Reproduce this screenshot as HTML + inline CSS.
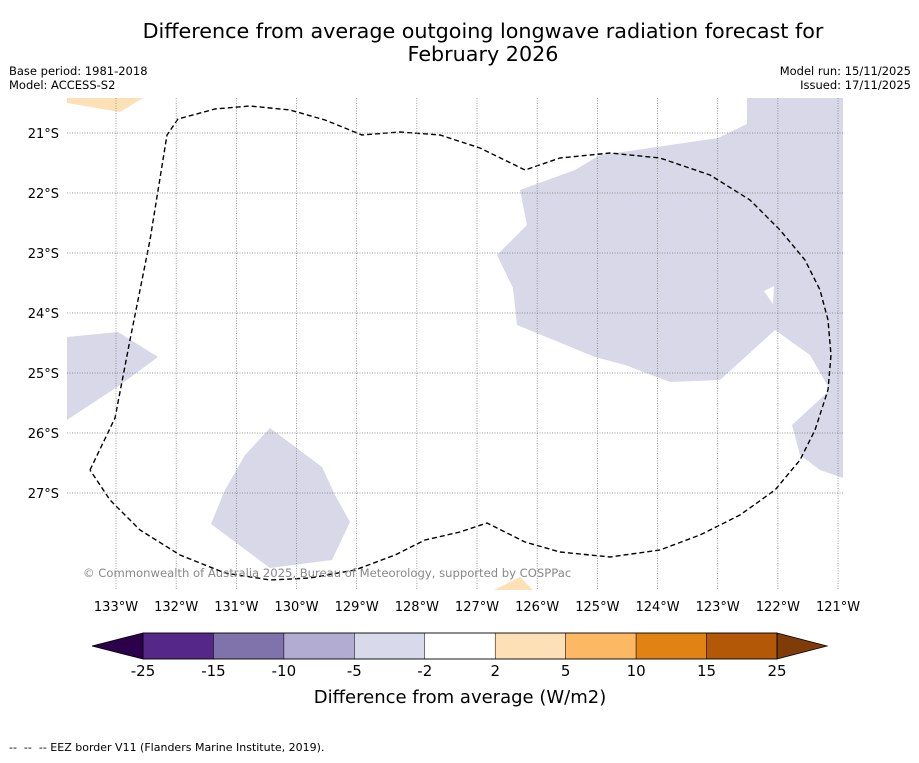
<!DOCTYPE html>
<html><head><meta charset="utf-8"><style>
body{margin:0;background:#fff;font-family:"Liberation Sans","DejaVu Sans",sans-serif}
svg text{font-family:"DejaVu Sans","Liberation Sans",sans-serif}
</style></head><body>
<svg id="chart" width="919" height="758" viewBox="0 0 919 758" xmlns="http://www.w3.org/2000/svg">
<rect width="919" height="758" fill="#fff"/>
<text x="483" y="38" font-size="20.7" text-anchor="middle">Difference from average outgoing longwave radiation forecast for</text>
<text x="483" y="61" font-size="20.7" text-anchor="middle">February 2026</text>
<text x="9" y="75" font-size="11.5">Base period: 1981-2018</text>
<text x="9" y="89" font-size="11.5">Model: ACCESS-S2</text>
<text x="911" y="75" font-size="11.5" text-anchor="end">Model run: 15/11/2025</text>
<text x="911" y="89" font-size="11.5" text-anchor="end">Issued: 17/11/2025</text>
<defs><clipPath id="mapclip"><rect x="67" y="98" width="776" height="492"/></clipPath></defs>
<g id="map" clip-path="url(#mapclip)"></g>
<g id="axes"></g>
<text x="83" y="577" font-size="11.6" fill="#888">© Commonwealth of Australia 2025, Bureau of Meteorology, supported by COSPPac</text>
<g id="cbar"></g>
<text x="460" y="703" font-size="18" text-anchor="middle">Difference from average (W/m2)</text>
<text x="9" y="751" font-size="11" xml:space="preserve">--  --  -- EEZ border V11 (Flanders Marine Institute, 2019).</text>
</svg>
<script>
const lonTicks=[-133,-132,-131,-130,-129,-128,-127,-126,-125,-124,-123,-122,-121];
const latTicks=[-21,-22,-23,-24,-25,-26,-27];
const cbarBounds=[-25,-15,-10,-5,-2,2,5,10,15,25];
const cbarColors=["#542788","#8073ac","#b2abd2","#d8daeb","#ffffff","#fee0b6","#fdb863","#e08214","#b35806"];
function X(lon){return 116+(lon+133)*60.17;}
function Y(lat){return 133+(-21-lat)*60;}
function L(px){return -133+(px-116)/60.17;}
function T(py){return -21-(py-133)/60;}
function P(a){return a.map(p=>[L(p[0]),T(p[1])]);}
const negArea1=P([[747,98],[843,98],[843,478],[820,470],[800,455],[792,425],[830,390],[810,355],[775,330],[720,380],[670,382],[625,365],[595,357],[517,325],[513,288],[497,255],[527,225],[520,190],[575,170],[600,155],[650,148],[718,138],[747,124]]);
const negArea2=P([[67,337],[118,332],[158,357],[120,385],[67,420]]);
const negArea3=P([[270,428],[245,455],[225,490],[211,524],[270,568],[332,560],[350,522],[335,495],[322,467]]);
const posArea1=P([[67,98],[143,98],[120,112],[67,103]]);
const posArea2=P([[490,592],[520,577],[535,592]]);
const holeArea=P([[764,291],[774,286],[773,304]]);
const eez=P([[90,470],[115,418],[130,340],[150,240],[167,135],[178,119],[215,109],[250,106],[290,110],[325,120],[362,135],[400,132],[440,135],[480,148],[525,170],[560,158],[610,153],[660,158],[710,175],[750,200],[780,230],[805,260],[820,290],[828,320],[831,355],[828,390],[815,430],[800,460],[775,490],[740,515],[700,535],[660,550],[610,557],[560,552],[525,542],[487,523],[460,532],[425,540],[395,555],[355,570],[310,578],[270,580],[225,573],[180,555],[140,530],[110,500],[90,470]]);
const NS="http://www.w3.org/2000/svg";
function mk(t,a,parent){const e=document.createElementNS(NS,t);for(const k in a)e.setAttribute(k,a[k]);parent.appendChild(e);return e;}
const map=document.getElementById('map');
function poly(arr,fill,name){const e=mk('polygon',{points:arr.map(p=>X(p[0]).toFixed(1)+','+Y(p[1]).toFixed(1)).join(' '),fill:fill},map);

}
poly(negArea1,"#d8d8e8","negative-anomaly-east");
poly(holeArea,"#ffffff","neutral-patch");
poly(negArea2,"#d8d8e8","negative-anomaly-west");
poly(negArea3,"#d8d8e8","negative-anomaly-south");
poly(posArea1,"#fee0b6","positive-anomaly-north");
poly(posArea2,"#fee0b6","positive-anomaly-south");
const axes=document.getElementById('axes');
lonTicks.forEach(l=>{const x=X(l);
const g=mk('line',{x1:x,y1:98,x2:x,y2:590,stroke:"#777","stroke-width":0.7,"stroke-dasharray":"1,1.5"},axes);


const t=mk('text',{x:x,y:611,"font-size":13,"text-anchor":"middle"},axes);t.textContent=(-l)+'°W';

});
latTicks.forEach(l=>{const y=Y(l);
const g=mk('line',{x1:67,y1:y,x2:843,y2:y,stroke:"#777","stroke-width":0.7,"stroke-dasharray":"1,1.5"},axes);


const t=mk('text',{x:59,y:y+5,"font-size":13,"text-anchor":"end"},axes);t.textContent=(-l)+'°S';

});
const eezLine=mk('polyline',{points:eez.map(p=>X(p[0]).toFixed(1)+','+Y(p[1]).toFixed(1)).join(' '),fill:"none",stroke:"#000","stroke-width":1.4,"stroke-dasharray":"5,3"},map);


const cb=document.getElementById('cbar');
const cx0=143,cx1=777,cy=633,ch=26,n=cbarBounds.length-1,w=(cx1-cx0)/n;
const lt=mk('polygon',{points:`92,${cy+ch/2} ${cx0},${cy} ${cx0},${cy+ch}`,fill:"#2d004b",stroke:"#000","stroke-width":0.8},cb);


const rt=mk('polygon',{points:`827,${cy+ch/2} ${cx1},${cy} ${cx1},${cy+ch}`,fill:"#7f3b08",stroke:"#000","stroke-width":0.8},cb);


cbarColors.forEach((c,i)=>{const r=mk('rect',{x:cx0+i*w,y:cy,width:w,height:ch,fill:c,stroke:"#000","stroke-width":0.5},cb);

});
mk('rect',{x:cx0,y:cy,width:cx1-cx0,height:ch,fill:"none",stroke:"#000","stroke-width":0.8},cb);
cbarBounds.forEach((b,i)=>{const t=mk('text',{x:cx0+i*w,y:676,"font-size":15,"text-anchor":"middle"},cb);t.textContent=b;

});
</script>
</body></html>
